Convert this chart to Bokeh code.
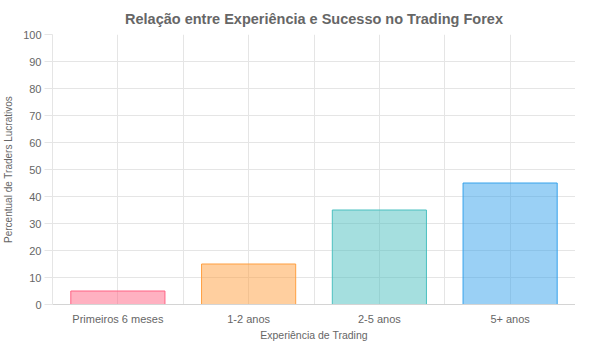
from bokeh.plotting import figure
from bokeh.models import (FactorRange, Range1d, LinearAxis, CategoricalAxis,
                          FixedTicker, ColumnDataSource, Grid)
from bokeh.embed import file_html
from bokeh.resources import INLINE

title_text = "Relação entre Experiência e Sucesso no Trading Forex"
x_title = "Experiência de Trading"
y_title = "Percentual de Traders Lucrativos"
categories = ["Primeiros 6 meses", "1-2 anos", "2-5 anos", "5+ anos"]
values = [5, 15, 35, 45]
fill_colors = ["#ff6384", "#ff9f40", "#4bc0c0", "#36a2eb"]
line_colors = ["#ff6384", "#ff9f40", "#4bc0c0", "#36a2eb"]
y_ticks = [0, 10, 20, 30, 40, 50, 60, 70, 80, 90, 100]

FONT = "Liberation Sans"
TXT = "#666666"
GRID = "#e5e5e5"
AXIS = "#d4d4d4"

p = figure(width=575, height=343,
           x_range=FactorRange(*categories, range_padding=0),
           y_range=Range1d(0, 100),
           x_axis_location=None, y_axis_location=None,
           output_backend="svg", toolbar_location=None,
           min_border_left=0, min_border_right=0, min_border_top=0, min_border_bottom=0)
p.outline_line_color = None
p.background_fill_color = "white"
p.border_fill_color = "white"

p.title.text = title_text
p.title.align = "center"
p.title.text_font = FONT
p.title.text_font_size = "14.5px"
p.title.text_font_style = "bold"
p.title.text_color = TXT
p.title.standoff = 16

# category boundaries in the factor range's own synthetic coordinates
bounds = list(range(len(categories) + 1))

# y axis
yax = LinearAxis(ticker=FixedTicker(ticks=y_ticks), axis_label=y_title)
yax.major_tick_out = 8
yax.major_tick_in = 0
yax.minor_tick_line_color = None
yax.major_tick_line_color = GRID
yax.axis_line_color = GRID
yax.major_label_text_font = FONT
yax.major_label_text_font_size = "11px"
yax.major_label_text_color = TXT
yax.major_label_standoff = 3
yax.axis_label_text_font = FONT
yax.axis_label_text_font_size = "10px"
yax.axis_label_text_font_style = "normal"
yax.axis_label_text_color = TXT
yax.axis_label_standoff = 6
p.add_layout(yax, "left")

# categorical label axis
cax = CategoricalAxis(axis_label=x_title)
cax.axis_line_color = AXIS
cax.major_tick_line_color = None
cax.major_tick_out = 0
cax.major_label_text_font = FONT
cax.major_label_text_font_size = "11px"
cax.major_label_text_color = TXT
cax.major_label_standoff = 8
cax.axis_label_text_font = FONT
cax.axis_label_text_font_size = "10.5px"
cax.axis_label_text_font_style = "normal"
cax.axis_label_text_color = TXT
cax.axis_label_standoff = 1
p.add_layout(cax, "below")

p.add_layout(Grid(dimension=1, ticker=FixedTicker(ticks=y_ticks), grid_line_color=GRID))
p.add_layout(Grid(dimension=0, ticker=FixedTicker(ticks=bounds), grid_line_color=GRID))

src = ColumnDataSource(dict(cat=categories, val=values, fill=fill_colors, line=line_colors))
p.vbar(x="cat", top="val", bottom=0, width=0.72, source=src,
       fill_color="fill", fill_alpha=0.5, line_color="line", line_alpha=1.0, line_width=1)

open("out.html", "w").write(file_html(p, INLINE))
